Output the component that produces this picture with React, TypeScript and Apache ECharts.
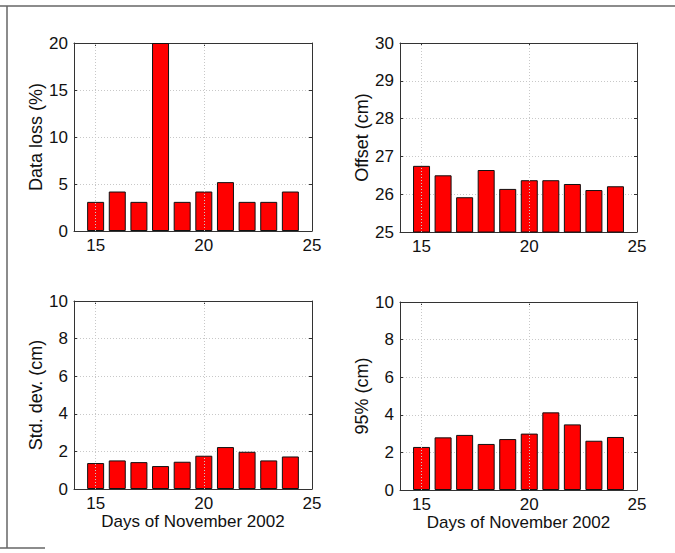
import React, { useEffect, useRef } from "react";
import * as echarts from "echarts";

const days = [15, 16, 17, 18, 19, 20, 21, 22, 23, 24];
const dataLoss = [3.1, 4.2, 3.1, 20, 3.1, 4.2, 5.2, 3.1, 3.1, 4.2];
const offset = [26.75, 26.5, 25.92, 26.64, 26.14, 26.37, 26.37, 26.27, 26.11, 26.21];
const stdDev = [1.38, 1.52, 1.43, 1.22, 1.45, 1.77, 2.23, 1.98, 1.52, 1.73];
const p95 = [2.29, 2.8, 2.93, 2.45, 2.71, 3.0, 4.13, 3.49, 2.62, 2.82];
const xTicks = [15, 20, 25];

const panels = [
  { name: "Data loss (%)", data: dataLoss, min: 0, max: 20, interval: 5, left: 74, top: 43, width: 238, height: 188, xName: "" },
  { name: "Offset (cm)", data: offset, min: 25, max: 30, interval: 1, left: 400, top: 43, width: 237, height: 189, xName: "" },
  { name: "Std. dev. (cm)", data: stdDev, min: 0, max: 10, interval: 2, left: 74, top: 301, width: 238, height: 188, xName: "Days of November 2002" },
  { name: "95% (cm)", data: p95, min: 0, max: 10, interval: 2, left: 400, top: 302, width: 237, height: 188, xName: "Days of November 2002" },
];

export default function App() {
  const ref = useRef<HTMLDivElement>(null);
  useEffect(() => {
    if (!ref.current) return;
    const chart = echarts.init(ref.current, null, { renderer: "svg" });
    const font = "Liberation Sans";
    const axisColor = "#333";
    const grids: any[] = [];
    const xAxes: any[] = [];
    const yAxes: any[] = [];
    const series: any[] = [];
    panels.forEach((p, i) => {
      grids.push({ left: p.left, top: p.top, width: p.width, height: p.height });
      xAxes.push({
        type: "value", gridIndex: i, position: "bottom", min: 14, max: 25,
        name: p.xName, nameLocation: "middle", nameGap: 14,
        nameTextStyle: { fontFamily: font, fontSize: 17, color: "#111" },
        axisLine: { show: true, onZero: false, lineStyle: { color: axisColor, width: 1 } },
        axisTick: { show: true, inside: true, length: 3, customValues: xTicks, lineStyle: { color: axisColor } },
        axisLabel: { show: true, customValues: xTicks, fontFamily: font, fontSize: 17, color: "#111", margin: 6 },
        splitLine: { show: false },
      });
      xAxes.push({
        type: "value", gridIndex: i, position: "top", min: 14, max: 25,
        axisLine: { show: true, onZero: false, lineStyle: { color: axisColor, width: 1 } },
        axisTick: { show: true, inside: true, length: 3, customValues: [15, 20], lineStyle: { color: axisColor } },
        axisLabel: { show: false },
        splitLine: { show: false },
      });
      yAxes.push({
        type: "value", gridIndex: i, position: "left", min: p.min, max: p.max, interval: p.interval,
        name: p.name, nameLocation: "middle", nameGap: 28,
        nameTextStyle: { fontFamily: font, fontSize: 18, color: "#111" },
        axisLine: { show: true, onZero: false, lineStyle: { color: axisColor, width: 1 } },
        axisTick: { show: true, inside: true, length: 3, lineStyle: { color: axisColor } },
        axisLabel: { fontFamily: font, fontSize: 17, color: "#111", margin: 6 },
        splitLine: { show: true, lineStyle: { color: "#c8c8c8", type: [1, 2], width: 1 } },
      });
      yAxes.push({
        type: "value", gridIndex: i, position: "right", min: p.min, max: p.max, interval: p.interval,
        axisLine: { show: true, onZero: false, lineStyle: { color: axisColor, width: 1 } },
        axisTick: { show: true, inside: true, length: 3, lineStyle: { color: axisColor } },
        axisLabel: { show: false },
        splitLine: { show: false },
      });
      series.push({
        type: "bar",
        xAxisIndex: 2 * i,
        yAxisIndex: 2 * i,
        data: days.map((d, k) => [d, p.data[k]]),
        barWidth: 17,
        clip: true,
        itemStyle: { color: "#ff0000", borderColor: "#111", borderWidth: 1 },
        markLine: {
          silent: true,
          symbol: "none",
          label: { show: false },
          lineStyle: { color: "#c8c8c8", type: [1, 2], width: 1 },
          data: [{ xAxis: 15 }, { xAxis: 20 }],
        },
        z: 3,
      });
    });
    chart.setOption({
      animation: false,
      backgroundColor: "#ffffff",
      grid: grids,
      xAxis: xAxes,
      yAxis: yAxes,
      series,
      graphic: [
        { type: "line", shape: { x1: 0, y1: 6, x2: 675, y2: 6 }, style: { stroke: "#666", lineWidth: 1.5 } },
        { type: "line", shape: { x1: 7, y1: 6, x2: 7, y2: 548 }, style: { stroke: "#666", lineWidth: 1.5 } },
        { type: "line", shape: { x1: 0, y1: 548, x2: 45, y2: 548 }, style: { stroke: "#666", lineWidth: 1.5 } },
      ],
    });
    return () => chart.dispose();
  }, []);
  return <div ref={ref} style={{ width: 675, height: 553, position: "absolute", left: 0, top: 0 }} />;
}
